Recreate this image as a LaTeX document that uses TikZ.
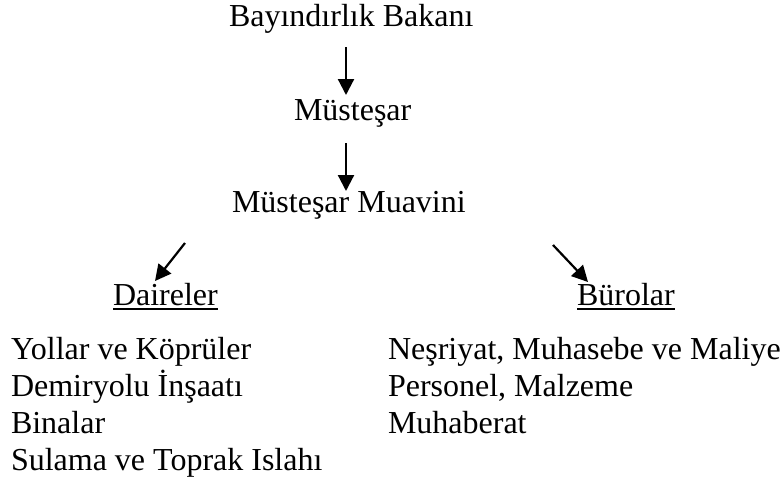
\documentclass[tikz,border=0pt]{standalone}
\usepackage{fontspec}
\setmainfont{Liberation Serif}
\usetikzlibrary{arrows.meta}
\begin{document}
\begin{tikzpicture}[x=1pt,y=-1pt,
  lbl/.style={inner sep=0pt, outer sep=0pt, anchor=base west, font=\fontsize{32}{37}\selectfont},
  arr/.style={line width=2.2pt, -{Triangle[width=16pt,length=16pt]}},
  uline/.style={line width=1.6pt}]
\useasboundingbox (0,0) rectangle (782,479);
\node[lbl] (bakan) at (229,27) {Bayındırlık Bakanı};
\node[lbl] (mustesar) at (294,120) {Müsteşar};
\node[lbl] (muavini) at (232,212) {Müsteşar Muavini};
\node[lbl] (daireler) at (113,305) {Daireler};
\node[lbl] (burolar) at (577,305) {Bürolar};
\node[lbl] (d1) at (11,359) {Yollar ve Köprüler};
\node[lbl] (d2) at (11,396) {Demiryolu İnşaatı};
\node[lbl] (d3) at (11,433) {Binalar};
\node[lbl] (d4) at (11,470) {Sulama ve Toprak Islahı};
\node[lbl] (b1) at (388,359) {Neşriyat, Muhasebe ve Maliye};
\node[lbl] (b2) at (388,396) {Personel, Malzeme};
\node[lbl] (b3) at (388,433) {Muhaberat};
% arrow end points
\coordinate (a1s) at (346,47);
\coordinate (a1e) at (346,95);
\coordinate (a2s) at (346,143);
\coordinate (a2e) at (346,191);
\coordinate (a3s) at (185,243);
\coordinate (a3e) at (155,281);
\coordinate (a4s) at (553,245);
\coordinate (a4e) at (588,282);
\draw[arr] (a1s) -- (a1e);
\draw[arr] (a2s) -- (a2e);
\draw[arr] (a3s) -- (a3e);
\draw[arr] (a4s) -- (a4e);
\draw[uline] ([yshift=-4pt]daireler.base west) -- ([yshift=-4pt]daireler.base east);
\draw[uline] ([yshift=-4pt]burolar.base west) -- ([yshift=-4pt]burolar.base east);
\end{tikzpicture}
\end{document}
